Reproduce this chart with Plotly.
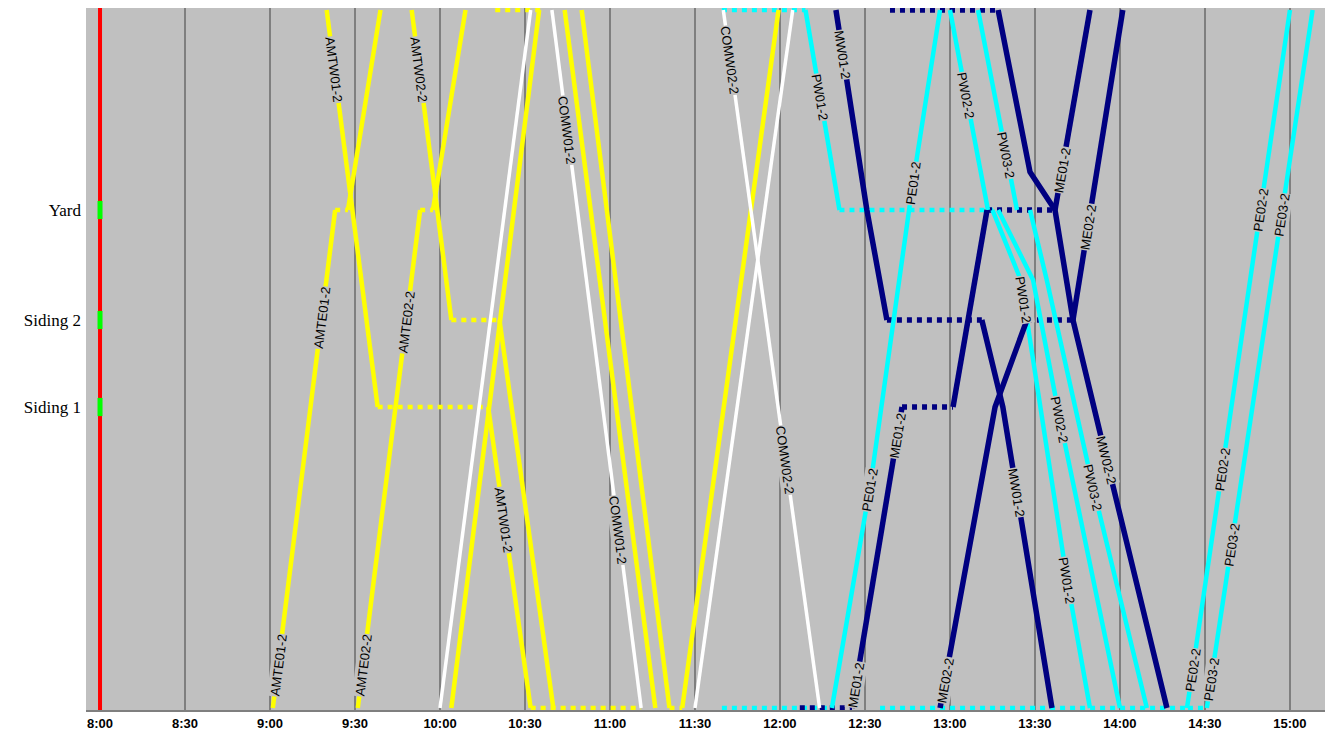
import math
import pandas as pd
import plotly.graph_objects as go

# track positions of the timing points (bottom terminal -> top terminal)
B, S1, S2, YD, TOP = 0.0, 30.1, 38.8, 49.8, 69.8
station_names = ["Siding 1", "Siding 2", "Yard"]
station_pos = [S1, S2, YD]

time_ticks = ["8:00", "8:30", "9:00", "9:30", "10:00", "10:30", "11:00", "11:30",
              "12:00", "12:30", "13:00", "13:30", "14:00", "14:30", "15:00"]

YELLOW, WHITE, CYAN, NAVY = "#ffff00", "#ffffff", "#00ffff", "#000080"

# train paths: clock times and positions, same position twice in a row = dwell (dotted)
amte01_t = ["9:01", "9:23", "9:27:30", "9:39"]
amte01_d = [B, YD, YD, TOP]
amtw01_t = ["9:20", "9:38", "10:17", "10:32", "11:11"]
amtw01_d = [TOP, S1, S1, B, B]
amte02_t = ["9:31", "9:53", "9:57:30", "10:09"]
amte02_d = [B, YD, YD, TOP]
amtw02_t = ["9:50", "10:04", "10:21", "10:40"]
amtw02_d = [TOP, S2, S2, B]
ye03_t = ["10:04", "10:35"]
ye03_d = [B, TOP]
yw03_t = ["10:19:30", "10:36:30", None, "10:44", "11:16"]
yw03_d = [TOP, TOP, None, TOP, B]
yw04_t = ["10:50", "11:21", "11:25:30", "11:59:30"]
yw04_d = [TOP, B, B, TOP]

we01_t = ["10:00", "10:32"]
we01_d = [B, TOP]
comw01_t = ["10:39:30", "11:11"]
comw01_d = [TOP, B]
comw02_t = ["11:40", "12:14"]
comw02_d = [TOP, B]
we02_t = ["11:30", "12:04:30"]
we02_d = [B, TOP]

pw01_t = ["11:39:30", "12:09", "12:21", "13:15", "13:25", "13:41:20", "13:49:25"]
pw01_d = [TOP, TOP, YD, YD, 42.8, 12.8, B]
pe01_t = ["11:39:30", "12:18:20", "12:32:10", "12:46:55", "12:56:30"]
pe01_d = [B, B, 22.8, 52.5, TOP]
pw02_t = ["13:00", "13:13:25", "13:17", "13:29:20", "13:38:50", "14:00"]
pw02_d = [TOP, YD, YD, 42.8, 28.8, B]
pw03_t = ["13:09:55", "13:23:40", "13:28:15", "13:34:10", "13:50:30", "14:09:30"]
pw03_d = [TOP, YD, YD, 42.8, 22.1, B]
pe02_t = ["12:35:20", "14:23:40", "15:00"]
pe02_d = [B, B, TOP]
pe03_t = ["14:24", "14:30:40", "15:08"]
pe03_d = [B, B, TOP]

mw01_t = ["12:19:45", "12:30:40", "12:37:45", "13:11:15", "13:18:40", "13:36"]
mw01_d = [TOP, YD, S2, S2, S1, B]
me01_t = ["12:07", "12:25:25", "12:43:05", "13:01:05", "13:13:05", "13:37:05", "13:49:25"]
me01_d = [B, B, S1, S1, YD, YD, TOP]
me02_t = ["12:56:30", "13:15:55", "13:27:10", "13:43:25", "14:01"]
me02_d = [B, S1, S2, S2, TOP]
mw02_t = ["12:38:50", "13:17", "13:28:15", "13:37:05", "13:43:25", "13:52:55", "14:16:35"]
mw02_d = [TOP, TOP, 53.6, YD, S2, 27.6, B]

# (label, times, positions, colour, width, positions where the name is written)
trains = [
    ("AMTE01-2", amte01_t, amte01_d, YELLOW, 4.5, [4.3, 39.0]),
    ("AMTW01-2", amtw01_t, amtw01_d, YELLOW, 4.5, [63.8, 18.8]),
    ("AMTE02-2", amte02_t, amte02_d, YELLOW, 4.5, [4.3, 38.6]),
    ("AMTW02-2", amtw02_t, amtw02_d, YELLOW, 4.5, [63.8]),
    ("", ye03_t, ye03_d, YELLOW, 4.5, []),
    ("", yw03_t, yw03_d, YELLOW, 4.5, []),
    ("", yw04_t, yw04_d, YELLOW, 4.5, []),
    ("", we01_t, we01_d, WHITE, 3.5, []),
    ("COMW01-2", comw01_t, comw01_d, WHITE, 3.5, [57.8, 17.8]),
    ("COMW02-2", comw02_t, comw02_d, WHITE, 3.5, [64.8, 24.8]),
    ("", we02_t, we02_d, WHITE, 3.5, []),
    ("PW01-2", pw01_t, pw01_d, CYAN, 4.5, [61.1, 40.8, 12.8]),
    ("PE01-2", pe01_t, pe01_d, CYAN, 4.5, [21.8, 52.5]),
    ("PW02-2", pw02_t, pw02_d, CYAN, 4.5, [61.3, 28.8]),
    ("PW03-2", pw03_t, pw03_d, CYAN, 4.5, [55.3, 22.1]),
    ("PE02-2", pe02_t, pe02_d, CYAN, 4.5, [3.8, 23.8, 49.8]),
    ("PE03-2", pe03_t, pe03_d, CYAN, 4.5, [2.8, 16.3, 49.3]),
    ("MW01-2", mw01_t, mw01_d, NAVY, 5.5, [65.3, 21.5]),
    ("ME01-2", me01_t, me01_d, NAVY, 5.5, [2.3, 27.3, 53.8]),
    ("ME02-2", me02_t, me02_d, NAVY, 5.5, [2.8, 48.1]),
    ("MW02-2", mw02_t, mw02_d, NAVY, 5.5, [24.8]),
]

BG = "#c0c0c0"
X_MIN, X_MAX = 8 * 60 - 4.94, 8 * 60 + 435.2
Y_MIN, Y_MAX = -0.2, 70.0
PLOT_W, PLOT_H = 1247, 702


def mins(s):
    parts = [int(p) for p in s.split(":")]
    sec = parts[2] if len(parts) > 2 else 0
    return parts[0] * 60 + parts[1] + sec / 60


def stamp(m):
    return (pd.Timestamp("2000-01-01") + pd.Timedelta(minutes=m)).strftime("%Y-%m-%d %H:%M:%S")


PPM = PLOT_W / (X_MAX - X_MIN)
PPU = PLOT_H / (Y_MAX - Y_MIN)

fig = go.Figure()
dwell_traces, run_traces, annotations = [], [], []

for name, tt, dd, color, width, labels in trains:
    ms = [mins(t) if t is not None else None for t in tt]
    dw_x, dw_y, run_x, run_y = [], [], [], []
    open_run = False
    for i in range(len(ms) - 1):
        if ms[i] is None or ms[i + 1] is None:
            if open_run:
                run_x.append(None); run_y.append(None); open_run = False
            continue
        if dd[i] == dd[i + 1]:
            dw_x += [stamp(ms[i]), stamp(ms[i + 1]), None]
            dw_y += [dd[i], dd[i + 1], None]
            if open_run:
                run_x.append(None); run_y.append(None); open_run = False
        else:
            if not open_run:
                run_x.append(stamp(ms[i])); run_y.append(dd[i]); open_run = True
            run_x.append(stamp(ms[i + 1])); run_y.append(dd[i + 1])
    if dw_x:
        dwell_traces.append(go.Scatter(x=dw_x, y=dw_y, mode="lines", hoverinfo="skip",
                                       line=dict(color=color, width=width, dash="5px,5px")))
    run_traces.append(go.Scatter(x=run_x, y=run_y, mode="lines", name=name,
                                 line=dict(color=color, width=width)))
    for p in labels:
        for i in range(len(ms) - 1):
            if ms[i] is None or ms[i + 1] is None or dd[i] == dd[i + 1]:
                continue
            lo, hi = sorted((dd[i], dd[i + 1]))
            if lo <= p <= hi:
                f = (p - dd[i]) / (dd[i + 1] - dd[i])
                m = ms[i] + f * (ms[i + 1] - ms[i])
                ang = math.degrees(math.atan2(-(dd[i + 1] - dd[i]) * PPU, (ms[i + 1] - ms[i]) * PPM))
                annotations.append(dict(x=stamp(m), y=p, text=name, textangle=ang, showarrow=False,
                                        bgcolor=BG, borderpad=0,
                                        font=dict(family="Liberation Sans, Arial", size=13, color="black")))
                break

# start-of-day line with the station markers on it
fig.add_trace(go.Scatter(x=[stamp(8 * 60), stamp(8 * 60)], y=[Y_MIN, Y_MAX], mode="lines",
                         hoverinfo="skip", line=dict(color="#ff0000", width=4)))
fig.add_trace(go.Scatter(x=[stamp(8 * 60)] * len(station_pos), y=station_pos, mode="markers",
                         hoverinfo="skip",
                         marker=dict(symbol="line-ns", size=13, color="#00ff00",
                                     line=dict(color="#00ff00", width=5))))

for tr in dwell_traces + run_traces:
    fig.add_trace(tr)

# the page body adds 8px around the figure, so the figure is 8px smaller here
fig.update_layout(
    width=1325, height=728,
    margin=dict(l=78, r=0, t=0, b=26),
    paper_bgcolor="white", plot_bgcolor=BG,
    showlegend=False,
    annotations=annotations,
    xaxis=dict(type="date", range=[stamp(X_MIN), stamp(X_MAX)], automargin=False,
               tickvals=[stamp(mins(t)) for t in time_ticks], ticktext=time_ticks,
               showgrid=True, gridcolor="#7f7f7f", gridwidth=2,
               showline=True, linecolor="#7f7f7f", linewidth=2, mirror=True,
               zeroline=False, ticks="",
               tickfont=dict(family="Liberation Sans, Arial", size=13, color="black", weight="bold")),
    yaxis=dict(range=[Y_MIN, Y_MAX], tickvals=station_pos, ticktext=station_names,
               showgrid=False, zeroline=False, showline=False, ticks="", automargin=False,
               ticklabelstandoff=4,
               tickfont=dict(family="Liberation Serif, Times New Roman", size=17, color="black")),
)

fig.write_html("out.html")
